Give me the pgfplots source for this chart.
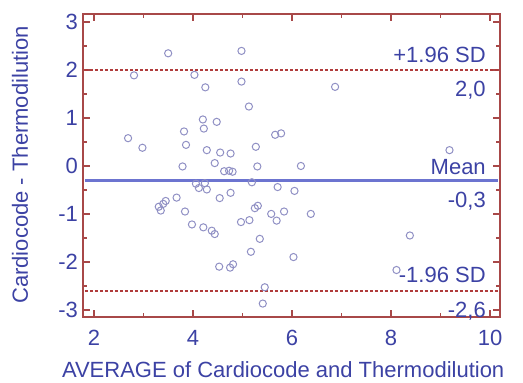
\documentclass[border=0pt]{standalone}
\usepackage{fontspec}
\setmainfont{Liberation Sans}
\usepackage{pgfplots}
\pgfplotsset{compat=1.18}
\definecolor{frame}{HTML}{A84848}
\definecolor{txt}{HTML}{3C42A4}
\definecolor{pts}{HTML}{9090C4}
\definecolor{meanc}{HTML}{6C74D0}
\definecolor{sdc}{HTML}{B03C3C}
\begin{document}
\begin{tikzpicture}
\begin{axis}[
  scale only axis, width=208.5pt, height=151.5pt,
  xmin=1.78, xmax=10.2, ymin=-3.15, ymax=3.17,
  font=\fontsize{11}{13}\selectfont,
  /pgf/number format/assume math mode=true,
  axis line style={frame, line width=1pt},
  tick style={frame, line width=0.9pt},
  tick align=inside,
  major tick length=3.5pt, minor tick length=2pt,
  xtick={2,4,6,8,10}, minor xtick={3,5,7,9},
  ytick={-3,-2,-1,0,1,2,3}, minor ytick={-2.5,-1.5,-0.5,0.5,1.5,2.5},
  ticklabel style={text=txt},
  xticklabel style={yshift=-3pt},
  yticklabel style={xshift=1pt},
  xlabel={AVERAGE of Cardiocode and Thermodilution},
  ylabel={Cardiocode - Thermodilution},
  label style={text=txt},
  xlabel style={at={(axis description cs:0.48,-0.175)}, anchor=center},
  ylabel style={at={(axis description cs:-0.151,0.502)}, anchor=center, rotate=0},
  clip=false,
]
\addplot[only marks, mark=o, mark size=1.8pt, mark options={draw=pts, line width=0.5pt}] coordinates {
(3.50,2.35) (4.98,2.40) (2.81,1.89) (4.03,1.90) (4.25,1.64) (4.98,1.76)
(5.13,1.24) (4.20,0.97) (4.48,0.92) (4.22,0.78) (3.82,0.72) (2.69,0.58)
(2.98,0.38) (3.86,0.44) (4.28,0.33) (4.55,0.28) (4.76,0.26) (5.27,0.40)
(5.66,0.65) (5.78,0.68) (3.79,-0.01) (4.44,0.06) (4.63,-0.11) (4.73,-0.10)
(4.80,-0.12) (5.30,-0.01) (6.18,0.00) (6.87,1.65) (9.18,0.33)
(4.06,-0.37) (4.12,-0.46) (4.24,-0.36) (4.28,-0.49) (5.19,-0.34) (5.71,-0.44)
(6.05,-0.52) (4.76,-0.56) (4.54,-0.67) (3.67,-0.66) (3.45,-0.73) (3.31,-0.85)
(3.35,-0.93) (3.40,-0.79) (3.84,-0.95) (3.98,-1.22) (4.21,-1.28) (4.38,-1.35)
(4.44,-1.42) (4.97,-1.17) (5.14,-1.13) (5.25,-0.88) (5.31,-0.83) (5.58,-1.00)
(5.69,-1.14) (5.84,-0.95) (5.35,-1.52) (5.17,-1.79) (6.03,-1.90) (4.53,-2.10)
(4.75,-2.12) (4.81,-2.05) (5.45,-2.53) (5.41,-2.87) (6.38,-1.00) (8.38,-1.45)
(8.11,-2.17)
};
\addplot[meanc, line width=1.2pt, no marks] coordinates {(1.82,-0.3) (10.16,-0.3)};
\addplot[sdc, line width=0.9pt, dash pattern=on 1.5pt off 1pt, no marks] coordinates {(1.82,2.0) (10.16,2.0)};
\addplot[sdc, line width=0.9pt, dash pattern=on 1.5pt off 1pt, no marks] coordinates {(1.82,-2.6) (10.16,-2.6)};
\node[text=txt, anchor=base east, inner sep=0pt, yshift=4pt] at (axis cs:9.92,2.0) {+1.96 SD};
\node[text=txt, anchor=north east, inner sep=0pt, yshift=-5.5pt] at (axis cs:9.92,2.0) {2,0};
\node[text=txt, anchor=base east, inner sep=0pt, yshift=3pt] at (axis cs:9.92,-0.3) {Mean};
\node[text=txt, anchor=north east, inner sep=0pt, yshift=-5.5pt] at (axis cs:9.92,-0.3) {-0,3};
\node[text=txt, anchor=base east, inner sep=0pt, yshift=4pt] at (axis cs:9.92,-2.6) {-1.96 SD};
\node[text=txt, anchor=north east, inner sep=0pt, yshift=-5.5pt] at (axis cs:9.92,-2.6) {-2,6};
\coordinate (sw) at (rel axis cs:0,0);
\end{axis}
\pgfresetboundingbox
\path (sw) ++(-41.5pt,-33pt) rectangle ++(261.5pt,191.5pt);
\end{tikzpicture}
\end{document}
